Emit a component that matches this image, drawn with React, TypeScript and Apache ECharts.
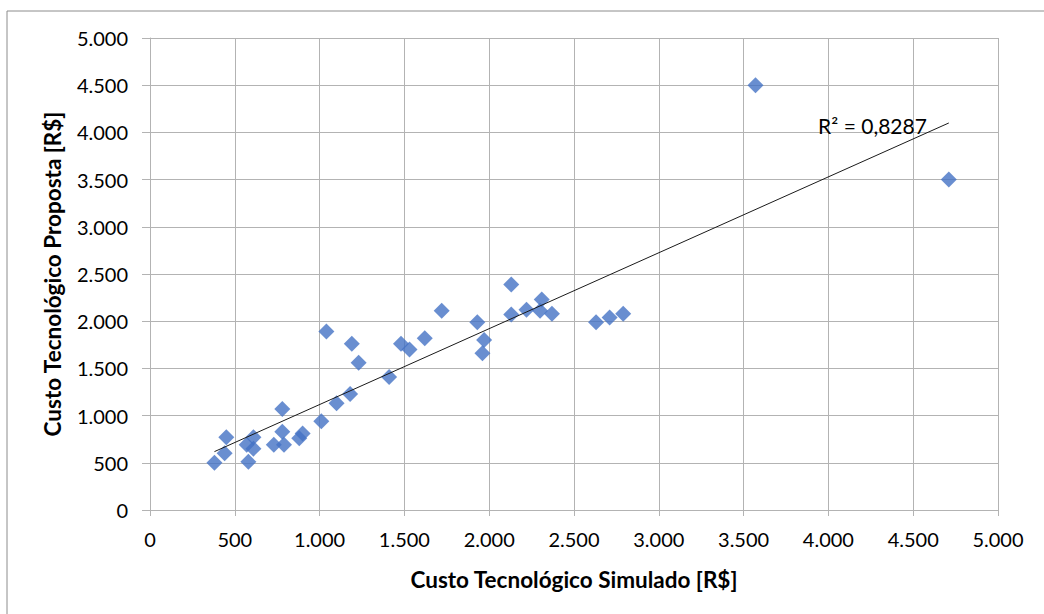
import React, { useEffect, useRef } from "react";
import * as echarts from "echarts";

const simulated = [380, 440, 450, 580, 570, 610, 610, 730, 780, 780, 790, 880, 900, 1010, 1040, 1100, 1180, 1190, 1230, 1410, 1480, 1530, 1620, 1720, 1930, 1970, 1960, 2130, 2130, 2220, 2300, 2310, 2370, 2630, 2710, 2790, 3570, 4710];
const proposta = [500, 600, 770, 510, 690, 770, 650, 690, 1070, 830, 690, 760, 810, 940, 1890, 1130, 1230, 1760, 1560, 1410, 1760, 1700, 1820, 2110, 1990, 1800, 1660, 2390, 2070, 2120, 2110, 2230, 2080, 1990, 2040, 2080, 4500, 3500];
const trendSlope = 0.804;
const trendIntercept = 313;
const r2Label = "R² = 0,8287";
const xTitle = "Custo Tecnológico Simulado [R$]";
const yTitle = "Custo Tecnológico Proposta [R$]";

const fmt = (v: number) => String(v).replace(/\B(?=(\d{3})+(?!\d))/g, ".");

export default function App() {
  const ref = useRef<HTMLDivElement>(null);
  useEffect(() => {
    document.body.style.margin = "0";
    const chart = echarts.init(ref.current!, null, { renderer: "svg" });
    const points = simulated.map((x, i) => [x, proposta[i]]);
    const xMin = Math.min(...simulated);
    const xMax = Math.max(...simulated);
    const trend = [
      [xMin, trendSlope * xMin + trendIntercept],
      [xMax, trendSlope * xMax + trendIntercept],
    ];
    const font = "Lato, 'Open Sans', sans-serif";
    const axisGray = "#b3b3b3";
    chart.setOption({
      animation: false,
      backgroundColor: "#ffffff",
      textStyle: { fontFamily: font },
      graphic: [
        {
          type: "rect",
          shape: { x: 7, y: 11, width: 1200, height: 800 },
          style: { fill: "none", stroke: "#8c8c8c", lineWidth: 1 },
          silent: true,
        },
      ],
      grid: { left: 150, right: 46, top: 38, bottom: 104 },
      xAxis: {
        type: "value",
        min: 0,
        max: 5000,
        interval: 500,
        name: xTitle,
        nameLocation: "middle",
        nameGap: 58,
        nameTextStyle: { fontSize: 22.5, fontWeight: "bold", color: "#000", fontFamily: font },
        axisLine: { show: true, lineStyle: { color: axisGray } },
        axisTick: { show: true, length: 6, lineStyle: { color: axisGray } },
        axisLabel: { formatter: fmt, fontSize: 20, color: "#000", margin: 19, fontFamily: font },
        splitLine: { show: true, lineStyle: { color: axisGray, width: 1 } },
      },
      yAxis: {
        type: "value",
        min: 0,
        max: 5000,
        interval: 500,
        name: yTitle,
        nameLocation: "middle",
        nameGap: 86,
        nameTextStyle: { fontSize: 22.5, fontWeight: "bold", color: "#000", fontFamily: font },
        axisLine: { show: true, lineStyle: { color: axisGray } },
        axisTick: { show: true, length: 8, lineStyle: { color: axisGray } },
        axisLabel: { formatter: fmt, fontSize: 20, color: "#000", margin: 22, fontFamily: font },
        splitLine: { show: true, lineStyle: { color: axisGray, width: 1 } },
      },
      series: [
        {
          type: "scatter",
          data: points,
          symbol: "diamond",
          symbolSize: [16, 16],
          itemStyle: { color: "#4472C4" },
          z: 3,
        },
        {
          type: "line",
          data: trend,
          showSymbol: false,
          symbol: "none",
          lineStyle: { color: "#1a1a1a", width: 1 },
          z: 4,
          markPoint: {
            symbol: "circle",
            symbolSize: 0,
            data: [{ coord: [4260, 4070], value: r2Label }],
            label: {
              show: true,
              formatter: r2Label,
              color: "#000",
              fontSize: 21,
              fontFamily: font,
            },
          },
        },
      ],
    });
    return () => chart.dispose();
  }, []);
  return <div ref={ref} style={{ width: 1044, height: 614 }} />;
}
